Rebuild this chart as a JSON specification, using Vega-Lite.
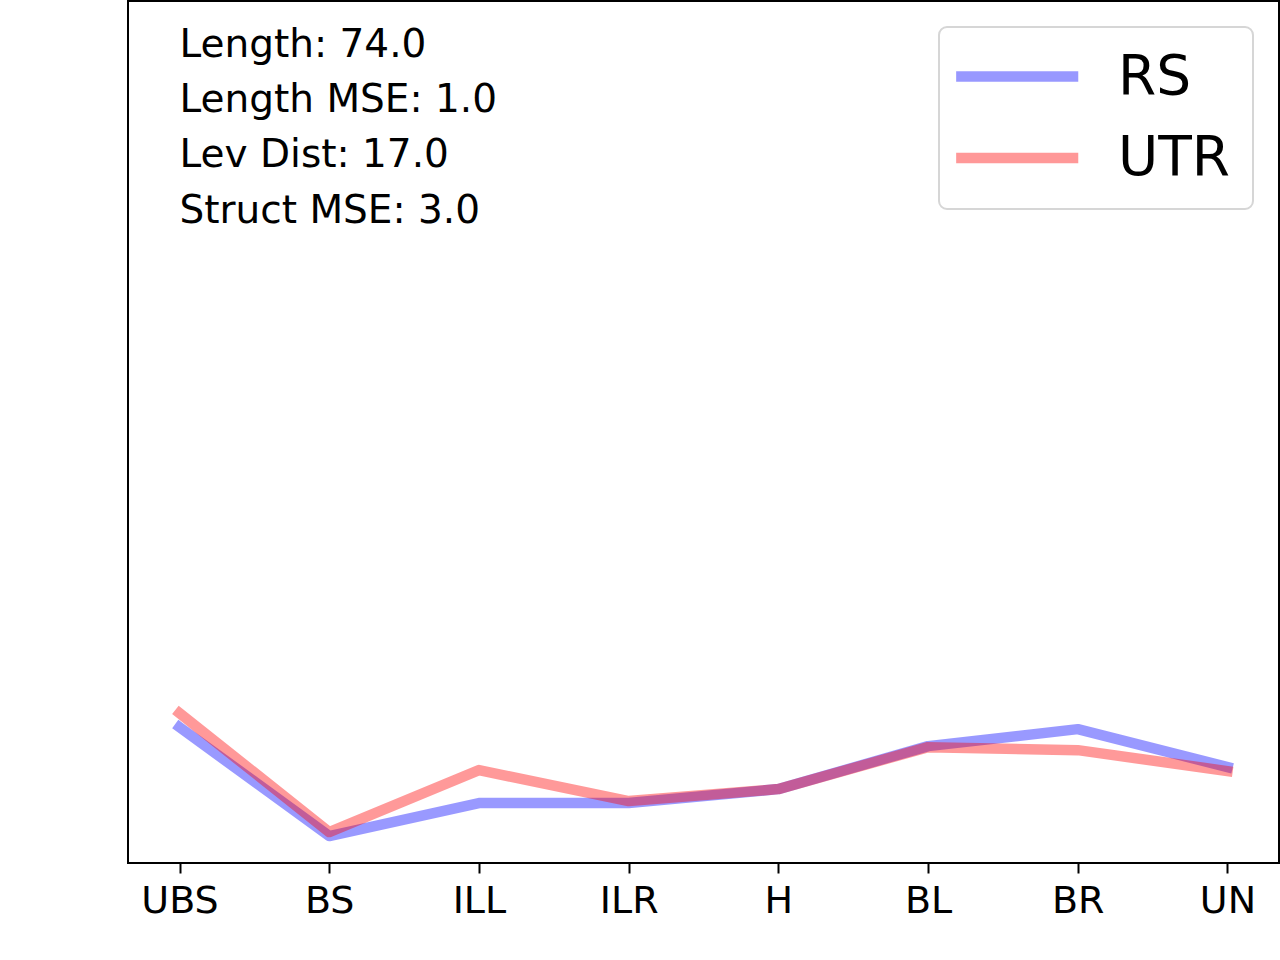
{
  "$schema": "https://vega.github.io/schema/vega-lite/v6.json",
  "width": 1151,
  "height": 862,
  "autosize": {"type": "none"},
  "padding": {"left": 128, "top": 1, "right": 1, "bottom": 97},
  "background": "white",
  "layer": [
    {
      "data": {
        "values": [
          {"part": "UBS", "method": "RS", "value": 13.6},
          {"part": "BS", "method": "RS", "value": 2.7},
          {"part": "ILL", "method": "RS", "value": 6.0},
          {"part": "ILR", "method": "RS", "value": 6.0},
          {"part": "H", "method": "RS", "value": 7.4},
          {"part": "BL", "method": "RS", "value": 11.7},
          {"part": "BR", "method": "RS", "value": 13.4},
          {"part": "UN", "method": "RS", "value": 9.6},
          {"part": "UBS", "method": "UTR", "value": 15.0},
          {"part": "BS", "method": "UTR", "value": 3.1},
          {"part": "ILL", "method": "UTR", "value": 9.3},
          {"part": "ILR", "method": "UTR", "value": 6.2},
          {"part": "H", "method": "UTR", "value": 7.4},
          {"part": "BL", "method": "UTR", "value": 11.6},
          {"part": "BR", "method": "UTR", "value": 11.3},
          {"part": "UN", "method": "UTR", "value": 9.2}
        ]
      },
      "mark": {
        "type": "line",
        "strokeWidth": 10.5,
        "opacity": 0.4,
        "strokeCap": "square",
        "strokeJoin": "round"
      },
      "encoding": {
        "x": {
          "field": "part",
          "type": "ordinal",
          "scale": {
            "type": "point",
            "domain": ["UBS", "BS", "ILL", "ILR", "H", "BL", "BR", "UN"],
            "padding": 0.344
          },
          "axis": {
            "title": null,
            "labelAngle": 0,
            "labelFont": "DejaVu Sans",
            "labelFontSize": 38,
            "labelColor": "#000",
            "labelPadding": 9,
            "tickSize": 10,
            "tickWidth": 2,
            "tickColor": "#000",
            "domain": false,
            "grid": false
          }
        },
        "y": {
          "field": "value",
          "type": "quantitative",
          "scale": {"domain": [0, 86.3], "nice": false, "zero": false},
          "axis": null
        },
        "color": {
          "field": "method",
          "type": "nominal",
          "scale": {"domain": ["RS", "UTR"], "range": ["#0000ff", "#ff0000"]},
          "legend": {
            "title": null,
            "orient": "none",
            "legendX": 811,
            "legendY": 26,
            "direction": "vertical",
            "padding": 22,
            "strokeColor": "#d6d6d6",
            "cornerRadius": 8,
            "fillColor": "#ffffff",
            "labelFont": "DejaVu Sans",
            "labelFontSize": 55,
            "labelColor": "#000",
            "labelOffset": 102,
            "rowPadding": 25.6,
            "symbolType": "M-1.47,0H4.08",
            "symbolSize": 1936,
            "symbolStrokeWidth": 10.5,
            "symbolOpacity": 0.4,
            "symbolFillColor": "transparent"
          }
        }
      }
    },
    {
      "data": {
        "values": [
          {"row": 1, "label": "Length: 74.0"},
          {"row": 2, "label": "Length MSE: 1.0"},
          {"row": 3, "label": "Lev Dist: 17.0"},
          {"row": 4, "label": "Struct MSE: 3.0"}
        ]
      },
      "mark": {
        "type": "text",
        "align": "left",
        "baseline": "alphabetic",
        "font": "DejaVu Sans",
        "fontSize": 39,
        "color": "#000"
      },
      "encoding": {
        "x": {"datum": "UBS", "type": "ordinal"},
        "y": {
          "field": "row",
          "type": "ordinal",
          "scale": {"type": "point", "range": [55.7, 221.7], "padding": 0},
          "axis": null
        },
        "text": {"field": "label"}
      }
    }
  ],
  "resolve": {"scale": {"y": "independent"}},
  "config": {
    "font": "DejaVu Sans",
    "view": {"stroke": "#000", "strokeWidth": 2},
    "legend": {"strokeWidth": 2}
  }
}
